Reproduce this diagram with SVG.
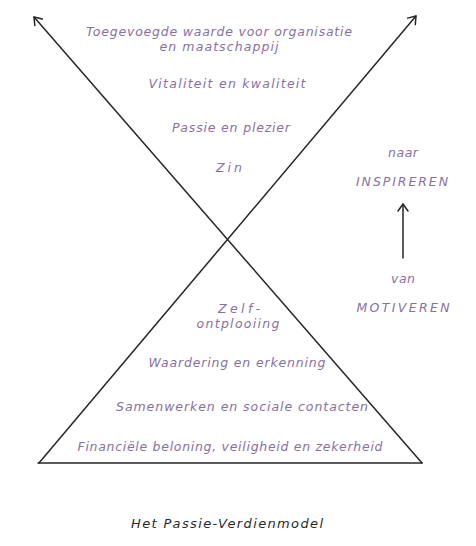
<svg xmlns="http://www.w3.org/2000/svg" width="476" height="546" viewBox="0 0 476 546">
<style>
.ln{stroke:#262626;stroke-width:1.5;fill:none;stroke-linecap:round}
.t{font-family:"DejaVu Sans","Liberation Sans",sans-serif;font-style:italic;font-size:12.5px;fill:#8a6fa2;text-anchor:middle}
.cap{font-family:"DejaVu Sans","Liberation Sans",sans-serif;font-style:italic;font-size:13px;fill:#2a2a2a;text-anchor:middle}
</style>
<defs>
<marker id="ah" markerWidth="12" markerHeight="12" refX="10" refY="6" orient="auto" markerUnits="userSpaceOnUse">
<path d="M3,1 L10,6 L3,11" fill="none" stroke="#262626" stroke-width="1.5" stroke-linecap="round" stroke-linejoin="round"/>
</marker>
</defs>
<rect width="476" height="546" fill="#ffffff"/>
<g id="connectors">
<line class="ln" x1="422" y1="463" x2="34" y2="17" marker-end="url(#ah)"/>
<line class="ln" x1="39" y1="463" x2="416" y2="16" marker-end="url(#ah)"/>
<line class="ln" x1="38" y1="463" x2="422" y2="463"/>
<line class="ln" x1="403" y1="258" x2="403" y2="204" marker-end="url(#ah)"/>
</g>
<g id="top-levels">
<text class="t" x="219" y="36" textLength="266" lengthAdjust="spacing">Toegevoegde waarde voor organisatie</text>
<text class="t" x="219" y="51" textLength="119" lengthAdjust="spacing">en maatschappij</text>
<text class="t" x="227" y="88" textLength="157" lengthAdjust="spacing">Vitaliteit en kwaliteit</text>
<text class="t" x="231" y="132" textLength="118" lengthAdjust="spacing">Passie en plezier</text>
<text class="t" x="229" y="172" textLength="26" lengthAdjust="spacing">Zin</text>
</g>
<g id="bottom-levels">
<text class="t" x="239" y="313" textLength="42" lengthAdjust="spacing">Zelf-</text>
<text class="t" x="238" y="328" textLength="83" lengthAdjust="spacing">ontplooiing</text>
<text class="t" x="237" y="367" textLength="177" lengthAdjust="spacing">Waardering en erkenning</text>
<text class="t" x="242" y="411" textLength="252" lengthAdjust="spacing">Samenwerken en sociale contacten</text>
<text class="t" x="230" y="451" textLength="305" lengthAdjust="spacing">Financiële beloning, veiligheid en zekerheid</text>
</g>
<g id="side">
<text class="t" x="403" y="157" textLength="30" lengthAdjust="spacing">naar</text>
<text class="t" x="402" y="186" textLength="92" lengthAdjust="spacing">INSPIREREN</text>
<text class="t" x="403" y="283" textLength="24" lengthAdjust="spacing">van</text>
<text class="t" x="403" y="312" textLength="93" lengthAdjust="spacing">MOTIVEREN</text>
</g>
<g id="caption">
<text class="cap" x="227" y="528" textLength="192" lengthAdjust="spacing">Het Passie-Verdienmodel</text>
</g>
</svg>
